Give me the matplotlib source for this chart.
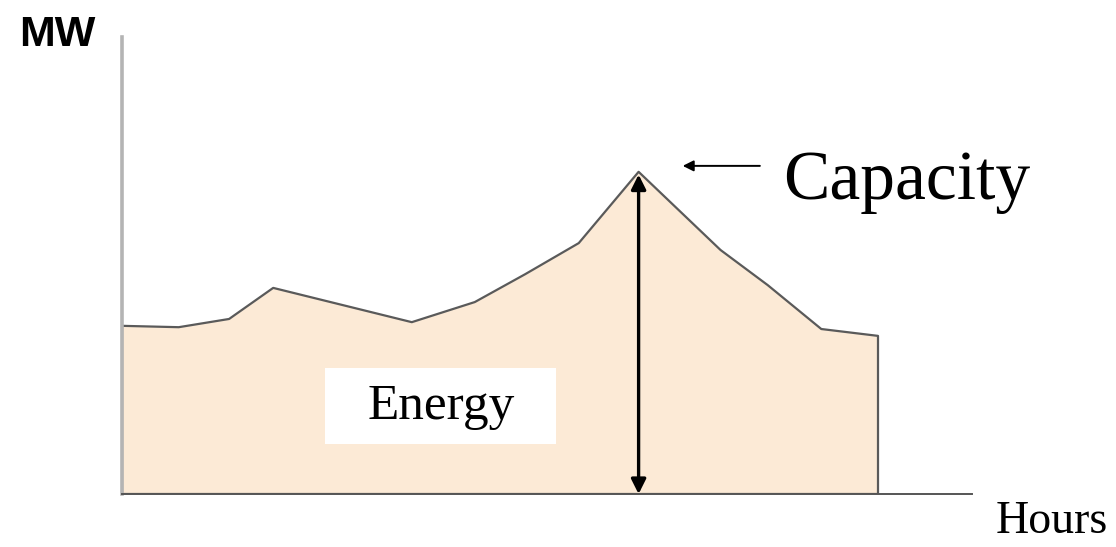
import matplotlib.pyplot as plt
from matplotlib.patches import Rectangle
import numpy as np

# load curve (hours, MW in arbitrary units)
hours = [0, 1.8, 3.4, 4.8, 9.2, 11.2, 12.8, 14.5, 16.4, 19.0, 20.5, 22.2, 24]
mw = [36.8, 36.5, 38.3, 45.1, 37.6, 42.0, 48.1, 54.9, 70.5, 53.4, 45.7, 36.1, 34.6]
y_label = 'MW'
x_label = 'Hours'
peak_label = 'Capacity'
area_label = 'Energy'

W, H = 1116, 547
fig = plt.figure(figsize=(W/100, H/100), dpi=100)
ax = fig.add_axes([122/W, (H-494)/H, (972-122)/W, (494-37)/H])
ax.set_xlim(0, 850/31.5)
ax.set_ylim(0, 100)

x = np.array(hours)
y = np.array(mw)
ax.fill_between(x, 0, y, color='#fcead6', lw=0, zorder=1)
# outline of the area
ox = np.concatenate([[x[0]], x, [x[-1], x[0]]])
oy = np.concatenate([[0], y, [0, 0]])
ax.plot(ox, oy, color='#5a5a5a', lw=1.6, zorder=2)

for s in ['top', 'right']:
    ax.spines[s].set_visible(False)
ax.spines['left'].set_color('#b4b4b4')
ax.spines['left'].set_linewidth(2.6)
ax.spines['bottom'].set_color('#555555')
ax.spines['bottom'].set_linewidth(1.4)
ax.set_xticks([])
ax.set_yticks([])

# capacity double arrow at the peak
i = int(np.argmax(y))
ax.annotate('', xy=(x[i], y[i] - 0.6), xytext=(x[i], 0),
            arrowprops=dict(arrowstyle='<|-|>', color='black', lw=2.4,
                            mutation_scale=22, shrinkA=0, shrinkB=0), zorder=4)
# pointer to the peak
ax.annotate('', xy=(x[i] + 1.4, 71.8), xytext=(x[i] + 3.85, 71.8),
            arrowprops=dict(arrowstyle='-|>', color='black', lw=1.4,
                            mutation_scale=16, shrinkA=0, shrinkB=0))
ax.text(x[i] + 4.6, 68.3, peak_label, fontsize=50, family='Liberation Serif',
        va='center', ha='left')

# energy label box
ax.add_patch(Rectangle((6.44, 10.9), 7.34, 16.7, facecolor='white',
                       edgecolor='none', zorder=3))
ax.text(10.13, 19.0, area_label, fontsize=37, family='Liberation Serif',
        va='center', ha='center', zorder=5)

fig.text(1052/W, 1 - 522/H, x_label, fontsize=33, family='Liberation Serif',
         va='center', ha='center')
fig.text(57/W, 1 - 35/H, y_label, fontsize=31, family='Liberation Sans',
         fontweight='bold', va='center', ha='center')

fig.savefig('out.png', dpi=100)
